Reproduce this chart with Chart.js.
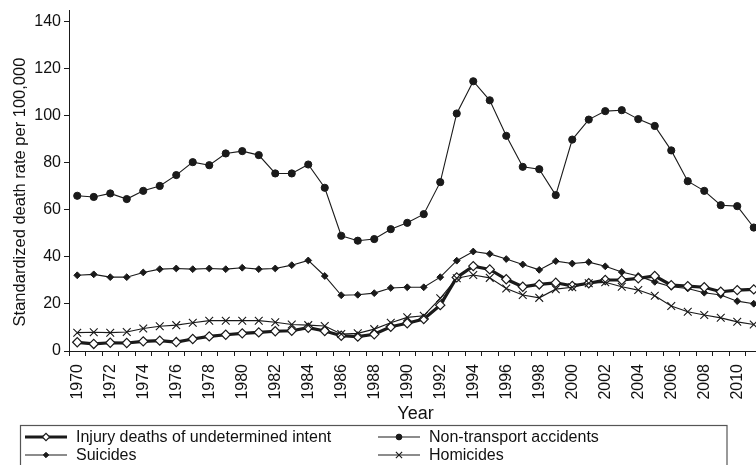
<!DOCTYPE html>
<html>
<head>
<meta charset="utf-8">
<script src="https://cdn.jsdelivr.net/npm/chart.js@4/dist/chart.umd.min.js"></script>
<style>
  html, body { margin: 0; padding: 0; background: #fff; overflow: hidden; }
  #wrap { width: 770px; height: 465px; }
</style>
</head>
<body>
<div id="wrap"><canvas id="c" width="770" height="465"></canvas></div>
<script>
const years = [];
for (let y = 1970; y <= 2011; y++) years.push(String(y));

const undetermined = [3.7,3.0,3.5,3.4,4.1,4.4,3.8,5.1,6.2,6.9,
  7.5,7.9,8.4,8.6,9.9,8.5,6.5,6.1,7.1,10.3,
  11.8,13.6,19.5,31.3,36.1,34.7,30.5,27.3,28.3,29.0,
  27.7,28.8,30.2,30.2,30.9,31.9,28.0,27.6,27.1,25.2,
  25.9,26.2];
const nonTransport = [66.0,65.5,67.0,64.6,68.1,70.2,74.8,80.3,79.0,84.0,
  85.0,83.3,75.5,75.5,79.3,69.4,49.0,46.9,47.6,51.8,
  54.5,58.2,71.8,101.0,114.7,106.6,91.5,78.3,77.3,66.3,
  89.9,98.4,102.0,102.4,98.6,95.7,85.3,72.2,68.1,62.0,
  61.6,52.5];
const suicides = [32.2,32.6,31.4,31.4,33.4,34.8,35.1,34.8,35.1,34.8,
  35.4,34.8,35.1,36.5,38.5,31.9,23.7,23.9,24.6,26.8,
  27.1,27.1,31.4,38.4,42.3,41.3,39.1,36.8,34.5,38.2,
  37.2,37.8,36.0,33.6,31.9,29.4,27.3,26.6,24.8,23.8,
  21.2,20.1];
const homicides = [7.8,8.0,7.8,8.1,9.6,10.5,11.0,12.0,12.9,12.9,
  12.9,12.9,12.2,11.3,11.0,10.6,7.2,7.5,9.3,12.0,
  14.3,15.0,22.4,30.9,32.3,31.1,26.6,23.8,22.6,26.3,
  27.1,28.8,29.2,27.3,25.9,23.5,19.1,16.7,15.3,14.1,
  12.4,11.3];

const yTicks = [0, 20, 40, 60, 80, 100, 120, 140];
const seriesNames = ["Injury deaths of undetermined intent", "Non-transport accidents", "Suicides", "Homicides"];
const yTitle = "Standardized death rate per 100,000";

const INK = '#1a1a1a';
const FONT = "'Liberation Sans', Arial, Helvetica, sans-serif";

const extrasPlugin = {
  id: 'extras',
  afterDraw(chart) {
    const ctx = chart.ctx;
    // y-axis title
    ctx.save();
    ctx.translate(20, 192);
    ctx.rotate(-Math.PI / 2);
    ctx.fillStyle = '#111';
    ctx.font = '16.5px ' + FONT;
    ctx.textAlign = 'center';
    ctx.textBaseline = 'middle';
    ctx.fillText(yTitle, 0, 0);
    ctx.restore();

    // legend box
    ctx.save();
    ctx.strokeStyle = '#555';
    ctx.lineWidth = 1.2;
    ctx.strokeRect(20.5, 425.5, 706.5, 60);
    ctx.restore();
    const entries = [
      {x: 25, tx: 76, y: 437, ds: 0},
      {x: 378, tx: 429, y: 437, ds: 1},
      {x: 25, tx: 76, y: 455, ds: 2},
      {x: 378, tx: 429, y: 455, ds: 3}
    ];
    entries.forEach(e => {
      const d = chart.data.datasets[e.ds];
      ctx.save();
      ctx.strokeStyle = INK;
      ctx.lineWidth = d.borderWidth;
      ctx.beginPath();
      ctx.moveTo(e.x, e.y);
      ctx.lineTo(e.x + 42, e.y);
      ctx.stroke();
      ctx.fillStyle = d.pointBackgroundColor;
      ctx.strokeStyle = INK;
      ctx.lineWidth = d.pointBorderWidth;
      Chart.helpers.drawPoint(ctx, {
        pointStyle: d.pointStyle,
        radius: d.pointRadius * 0.8,
        borderWidth: d.pointBorderWidth,
        rotation: 0
      }, e.x + 21, e.y);
      ctx.fillStyle = '#111';
      ctx.font = '16px ' + FONT;
      ctx.textBaseline = 'middle';
      ctx.fillText(seriesNames[e.ds], e.tx, e.y + 1);
      ctx.restore();
    });
  }
};

new Chart(document.getElementById('c'), {
  type: 'line',
  data: {
    labels: years,
    datasets: [
      {
        label: seriesNames[0], data: undetermined,
        borderColor: INK, borderWidth: 3.2,
        pointStyle: 'rectRot', pointRadius: 4.6,
        pointBackgroundColor: '#fff', pointBorderColor: INK, pointBorderWidth: 1.2,
        tension: 0, order: 1
      },
      {
        label: seriesNames[1], data: nonTransport,
        borderColor: INK, borderWidth: 1.1,
        pointStyle: 'circle', pointRadius: 3.6,
        pointBackgroundColor: INK, pointBorderColor: INK, pointBorderWidth: 1,
        tension: 0, order: 2
      },
      {
        label: seriesNames[2], data: suicides,
        borderColor: INK, borderWidth: 1.1,
        pointStyle: 'rectRot', pointRadius: 3.4,
        pointBackgroundColor: INK, pointBorderColor: INK, pointBorderWidth: 1,
        tension: 0, order: 3
      },
      {
        label: seriesNames[3], data: homicides,
        borderColor: INK, borderWidth: 1.1,
        pointStyle: 'crossRot', pointRadius: 5.5,
        pointBackgroundColor: INK, pointBorderColor: INK, pointBorderWidth: 1.1,
        tension: 0, order: 0
      }
    ]
  },
  options: {
    responsive: false,
    animation: false,
    layout: { padding: { top: 10, left: 0, right: 8, bottom: 40 } },
    plugins: { legend: { display: false }, tooltip: { enabled: false } },
    scales: {
      x: {
        type: 'category',
        offset: true,
        grid: { offset: true, drawOnChartArea: false, drawTicks: true, tickLength: 5, color: INK, lineWidth: 1 },
        border: { display: true, color: INK, width: 1 },
        ticks: {
          autoSkip: false, maxRotation: 90, minRotation: 90, padding: 8,
          color: '#111', font: { family: FONT, size: 16 },
          callback: function(v, i) { const l = this.getLabelForValue(v); return (Number(l) % 2 === 0) ? l : ''; }
        },
        title: { display: true, text: 'Year', color: '#111', font: { family: FONT, size: 18 }, padding: { top: 0, bottom: 0 } },
        afterFit(s) { s.height = 74; s.paddingLeft = 0; s.paddingRight = 0; }
      },
      y: {
        min: 0, max: 145,
        afterBuildTicks(s) { s.ticks = yTicks.map(v => ({ value: v })); },
        grid: { drawOnChartArea: false, drawTicks: true, tickLength: 5, color: INK, lineWidth: 1 },
        border: { display: true, color: INK, width: 1 },
        ticks: { padding: 3, color: '#111', font: { family: FONT, size: 16 } },
        afterFit(s) { s.width = 69; s.paddingTop = 0; s.paddingBottom = 0; }
      }
    }
  },
  plugins: [extrasPlugin]
});
</script>
</body>
</html>
